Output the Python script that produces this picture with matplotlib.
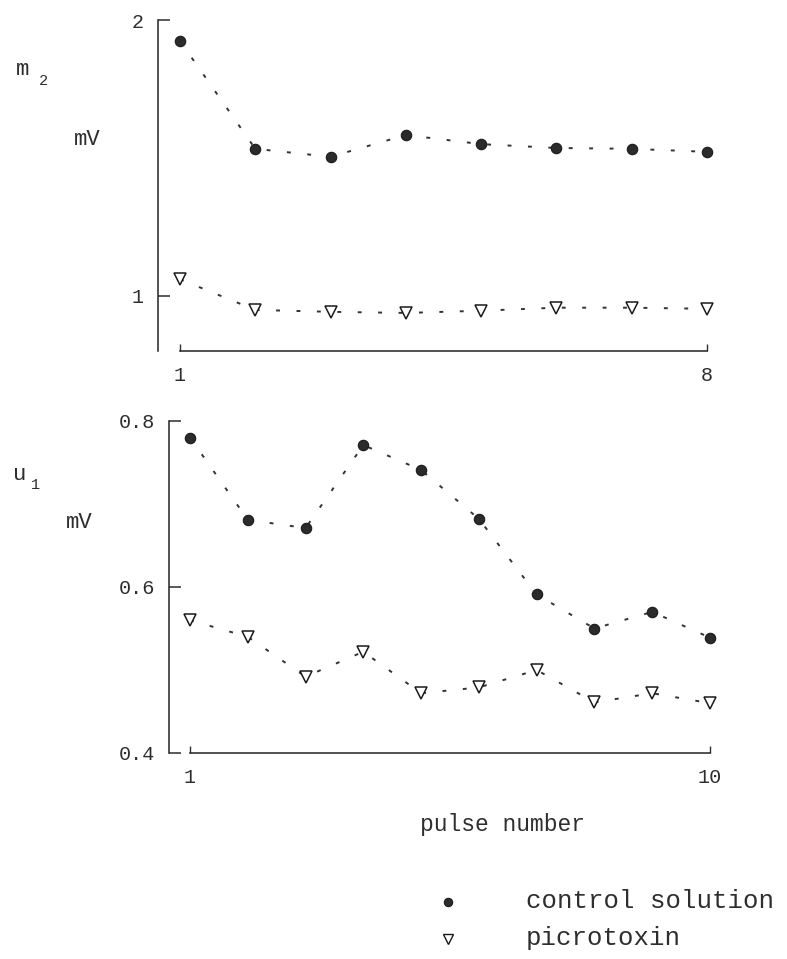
import matplotlib
matplotlib.use("Agg")
import matplotlib.pyplot as plt
from matplotlib.lines import Line2D

# ---- data ----
pulse_top = [1, 2, 3, 4, 5, 6, 7, 8]
m2_control = [1.924, 1.533, 1.504, 1.583, 1.550, 1.536, 1.533, 1.522]
m2_picro = [1.060, 0.949, 0.942, 0.938, 0.946, 0.957, 0.957, 0.953]

pulse_bot = [1, 2, 3, 4, 5, 6, 7, 8, 9, 10]
u1_control = [0.780, 0.681, 0.671, 0.771, 0.741, 0.682, 0.591, 0.550, 0.570, 0.539]
u1_picro = [0.560, 0.540, 0.492, 0.522, 0.472, 0.479, 0.500, 0.461, 0.472, 0.460]

top_yticks = [1, 2]
top_ytick_labels = ["1", "2"]
top_xticks = [1, 8]
bot_yticks = [0.4, 0.6, 0.8]
bot_ytick_labels = ["0.4", "0.6", "0.8"]
bot_xticks = [1, 10]

legend_labels = ["control solution", "picrotoxin"]

FONT = ["Liberation Mono", "DejaVu Sans Mono"]
plt.rcParams["font.family"] = FONT
TXT = "#2e2e2e"

W, H = 787, 959
fig = plt.figure(figsize=(W / 100, H / 100), dpi=100)
fig.patch.set_facecolor("white")


def ax_at(left, right, top, bottom):
    return fig.add_axes([left / W, 1 - bottom / H, (right - left) / W, (bottom - top) / H])


line_kw = dict(color="#333333", lw=1.4, ls=(0, (2.0, 8.5)))
ctrl_kw = dict(marker="o", ms=7.5, mfc="#2b2b2b", mec="#1a1a1a", mew=0.8)
pic_kw = dict(marker="v", ms=8.5, mfc="white", mec="#1a1a1a", mew=1.1)


def style(ax, xb):
    for s in ["top", "right"]:
        ax.spines[s].set_visible(False)
    for s in ["left", "bottom"]:
        ax.spines[s].set_linewidth(1.1)
        ax.spines[s].set_color("#222222")
    ax.spines["bottom"].set_bounds(*xb)
    ax.tick_params(axis="y", direction="in", length=8.5, width=1.1, pad=10,
                   labelsize=14.5, colors=TXT)
    ax.tick_params(axis="x", direction="in", length=5, width=1.0, pad=11,
                   labelsize=14.5, colors=TXT)


# ---- top panel ----
ax1 = ax_at(158, 720, 20, 351)
ax1.plot(pulse_top, m2_control, **line_kw, zorder=1)
ax1.plot(pulse_top, m2_picro, **line_kw, zorder=1)
ax1.plot(pulse_top, m2_control, ls="none", **ctrl_kw, zorder=3)
ax1.plot(pulse_top, m2_picro, ls="none", **pic_kw, zorder=3)
ax1.set_xlim(1 - 22 / 75.29, 8 + 13 / 75.29)
ax1.set_ylim(0.80, 2.0)
ax1.set_yticks(top_yticks)
ax1.set_yticklabels(top_ytick_labels)
ax1.set_xticks(top_xticks)
ax1.set_xticklabels([str(v) for v in top_xticks])
style(ax1, (1, 8))

# ---- bottom panel ----
ax2 = ax_at(169, 720, 421, 753)
ax2.plot(pulse_bot, u1_control, **line_kw, zorder=1)
ax2.plot(pulse_bot, u1_picro, **line_kw, zorder=1)
ax2.plot(pulse_bot, u1_control, ls="none", **ctrl_kw, zorder=3)
ax2.plot(pulse_bot, u1_picro, ls="none", **pic_kw, zorder=3)
ax2.set_xlim(1 - 21 / 57.78, 10 + 10 / 57.78)
ax2.set_ylim(0.4, 0.8)
ax2.set_yticks(bot_yticks)
ax2.set_yticklabels(bot_ytick_labels)
ax2.set_xticks(bot_xticks)
ax2.set_xticklabels([str(v) for v in bot_xticks])
style(ax2, (1, 10))


def ftext(x, y, s, size, **kw):
    fig.text(x / W, 1 - y / H, s, fontsize=size, color=TXT, family=FONT, **kw)


# axis quantity labels
ftext(16, 75, "m", 16, ha="left", va="baseline")
ftext(39, 85, "2", 11, ha="left", va="baseline")
ftext(74, 145, "mV", 16, ha="left", va="baseline")
ftext(13, 480, "u", 16, ha="left", va="baseline")
ftext(31, 489, "1", 11, ha="left", va="baseline")
ftext(66, 528, "mV", 16, ha="left", va="baseline")

# x label
ftext(420, 831, "pulse number", 16.5, ha="left", va="baseline")

# legend (keys + labels)
fig.add_artist(Line2D([448 / W], [1 - 902 / H], transform=fig.transFigure, ls="none",
                      marker="o", ms=6, mfc="#2b2b2b", mec="#1a1a1a", mew=0.8))
fig.add_artist(Line2D([448 / W], [1 - 939 / H], transform=fig.transFigure, ls="none",
                      marker="v", ms=6.5, mfc="white", mec="#1a1a1a", mew=1.0))
ftext(526, 908, legend_labels[0], 18.5, ha="left", va="baseline")
ftext(526, 945, legend_labels[1], 18.5, ha="left", va="baseline")

fig.savefig("out.png", dpi=100, facecolor="white")
